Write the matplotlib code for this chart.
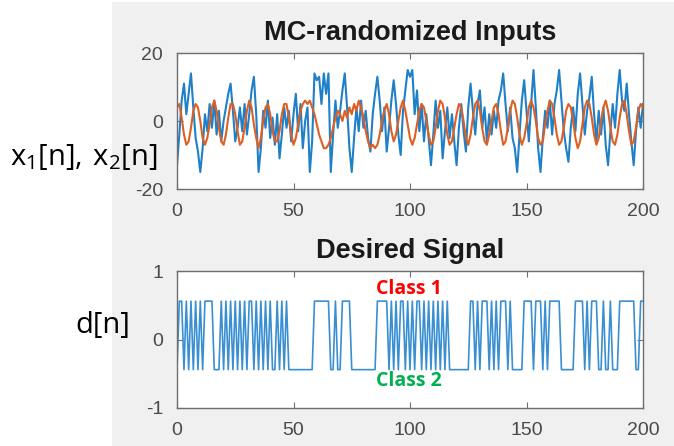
import numpy as np
import matplotlib
matplotlib.use("Agg")
import matplotlib.pyplot as plt
from matplotlib.patches import Rectangle

plt.rcParams["axes.unicode_minus"] = False

# ---- data ----
x1 = [
    -13, -4, 6, 11, 2, 8, 14, 4, -5, -9,
    -15, -8, 2, -3, 5, -2, 6, -4, 3, -6,
    0, 4, 8, 11, 3, -6, -2, 4, -3, 5,
    -4, 2, 9, 13, 2, -15, -8, 3, -2, 6,
    -5, 1, -7, 2, -11, -4, 4, -2, 3, -6,
    2, 8, -3, 5, -8, 0, 4, -15, -6, 14,
    12, 13, 5, 14, 8, 14, -15, -4, 6, -2,
    3, 9, 14, 4, -8, -15, -5, 4, -3, 6,
    -2, 3, -5, -9, 2, 8, 13, 6, -3, 4,
    -9, -2, 6, 12, 5, -4, -10, 3, 9, 15,
    13, 15, 2, 9, -3, 5, -6, 2, -5, -13,
    -4, 6, -2, 3, -11, -3, 4, -5, 2, -6,
    -13, -2, 5, -3, -9, 4, 11, 3, -4, 5,
    9, -2, 4, -6, 2, -4, 3, -2, 6, 9,
    14, 5, -3, 4, -5, -8, -15, -4, 6, 12,
    3, -6, 5, 15, 4, -8, -15, -5, 3, -2,
    6, -4, 5, 9, 15, 6, -3, -8, -12, -2,
    4, -3, 8, 14, 5, -4, 3, 7, 13, 2,
    -6, 3, -4, 4, -7, -13, -3, 5, -2, 8,
    15, 6, 3, 11, 2, -6, -13, -3, 4, -2,
    5,
]

x2 = [
    4, 5, 1, -4, -7, -6, -2, 3, 5, 4,
    0, -5, -7, -5, -1, 4, 6, 3, -2, -6,
    -7, -4, 1, 5, 5, 2, -3, -7, -6, -2,
    3, 6, 4, -1, -5, -8, -5, 0, 4, 5,
    2, -3, -6, -6, -3, 2, 5, 5, 1, -4,
    -7, -5, -1, 3, 5, 6, 5, 6, 4, 2,
    -1, -4, -6, -8, -8, -7, -5, -2, 1, 3,
    2, 0, 3, 1, 4, 2, 5, 3, 6, 4,
    1, -3, -6, -8, -7, -8, -7, -4, 0, 3,
    5, 2, -3, -6, -4, 0, 4, 6, 3, -1,
    -5, -7, -5, -1, 3, 5, 4, 0, -4, -7,
    -6, -2, 3, 6, 5, 1, -4, -7, -6, -2,
    2, 5, 4, 0, -5, -7, -4, 1, 5, 6,
    3, -2, -6, -7, -4, 0, 4, 5, 2, -3,
    -7, -6, -2, 3, 6, 5, 1, -4, -7, -5,
    -1, 4, 6, 4, 0, -5, -7, -6, -1, 3,
    6, 5, 1, -4, -7, -6, -2, 3, 5, 4,
    0, -5, -8, -6, -1, 4, 6, 5, 1, -4,
    -7, -5, 0, 4, 6, 3, -2, -6, -7, -4,
    1, 5, 6, 2, -3, -7, -6, -2, 3, 5,
    4,
]

d_bits = [
    0, 1, 1, 0, 1, 0, 1, 0, 1, 0,
    1, 0, 1, 1, 1, 1, 0, 0, 0, 1,
    0, 1, 0, 1, 0, 1, 0, 1, 0, 1,
    0, 1, 1, 0, 1, 0, 1, 0, 1, 0,
    1, 0, 0, 1, 0, 1, 0, 1, 0, 0,
    0, 0, 0, 0, 0, 0, 0, 0, 0, 1,
    1, 1, 1, 1, 1, 1, 0, 0, 1, 0,
    0, 1, 1, 1, 1, 0, 0, 0, 0, 0,
    0, 0, 0, 0, 0, 0, 1, 1, 1, 1,
    1, 0, 1, 0, 1, 0, 1, 1, 0, 1,
    0, 1, 0, 1, 1, 0, 1, 0, 1, 0,
    1, 0, 1, 0, 1, 0, 1, 0, 0, 0,
    0, 0, 0, 0, 0, 0, 1, 1, 0, 1,
    0, 1, 1, 1, 0, 1, 0, 1, 0, 1,
    1, 1, 0, 1, 0, 0, 0, 0, 0, 1,
    1, 1, 1, 0, 1, 1, 1, 0, 1, 0,
    1, 1, 1, 1, 1, 0, 0, 0, 0, 0,
    0, 1, 1, 1, 1, 0, 1, 0, 1, 1,
    1, 0, 0, 1, 0, 0, 1, 0, 0, 0,
    1, 1, 1, 1, 1, 1, 1, 0, 0, 1,
    1,
]
d_levels = [-0.44, 0.56]   # class 2 level, class 1 level

x_ticks = [0, 50, 100, 150, 200]
top_yticks = [-20, 0, 20]
bot_yticks = [-1, 0, 1]

# ---- figure ----
W, H = 674, 446
fig = plt.figure(figsize=(W / 100, H / 100), dpi=100)
fig.patch.set_facecolor("white")
fig.patches.append(Rectangle((112 / W, 0), 1 - 112 / W, 444 / H,
                             transform=fig.transFigure, facecolor="#f0f0f0",
                             edgecolor="none", zorder=-10))

tick_font = "Liberation Sans"
blue = "#1f80c8"
orange = "#df5f22"


def style(ax):
    ax.set_facecolor("white")
    for s in ax.spines.values():
        s.set_color("#6e6e6e")
        s.set_linewidth(1.0)
    ax.tick_params(direction="in", top=True, right=True, length=4,
                   width=0.8, color="#6e6e6e", labelcolor="#4a4a4a",
                   labelsize=14)
    ax.tick_params(axis="x", pad=10)
    ax.tick_params(axis="y", pad=10)
    for lab in ax.get_xticklabels() + ax.get_yticklabels():
        lab.set_fontfamily(tick_font)


n = np.arange(len(x1))

ax1 = fig.add_axes([177 / W, (H - 189) / H, (643 - 177) / W, 136 / H])
ax1.plot(n, x1, color=blue, lw=1.5)
ax1.plot(np.arange(len(x2)), x2, color=orange, lw=1.5)
ax1.set_xlim(0, 200)
ax1.set_ylim(-20, 20)
ax1.set_xticks(x_ticks)
ax1.set_yticks(top_yticks)
style(ax1)
ax1.set_title("MC-randomized Inputs", fontsize=19.5, fontweight="bold",
              fontfamily=tick_font, color="#1a1a1a", pad=9)

ax2 = fig.add_axes([177 / W, (H - 408) / H, (643 - 177) / W, 137 / H])
d = np.where(np.array(d_bits) == 1, d_levels[1], d_levels[0])
ax2.plot(np.arange(len(d)), d, color="#3a8fd2", lw=1.2)
ax2.set_xlim(0, 200)
ax2.set_ylim(-1, 1)
ax2.set_xticks(x_ticks)
ax2.set_yticks(bot_yticks)
style(ax2)
ax2.set_title("Desired Signal", fontsize=19.5, fontweight="bold",
              fontfamily=tick_font, color="#1a1a1a", pad=9)

# class annotations
fig.text(409 / W, 1 - 289 / H, "Class 1", color="#ff0000", fontsize=14,
         fontweight="bold", fontfamily="Open Sans", ha="center", va="center")
fig.text(409 / W, 1 - 381 / H, "Class 2", color="#00b050", fontsize=14,
         fontweight="bold", fontfamily="Open Sans", ha="center", va="center")

# left labels
fig.text(10 / W, 1 - 157 / H, r"$\mathregular{x_1[n],\,x_2[n]}$",
         fontsize=21, fontfamily="Open Sans", color="black",
         ha="left", va="center")
fig.text(103 / W, 1 - 326 / H, "d[n]", fontsize=21, fontfamily="Open Sans",
         color="black", ha="center", va="center")

fig.savefig("out.png", dpi=100, facecolor=fig.get_facecolor())
